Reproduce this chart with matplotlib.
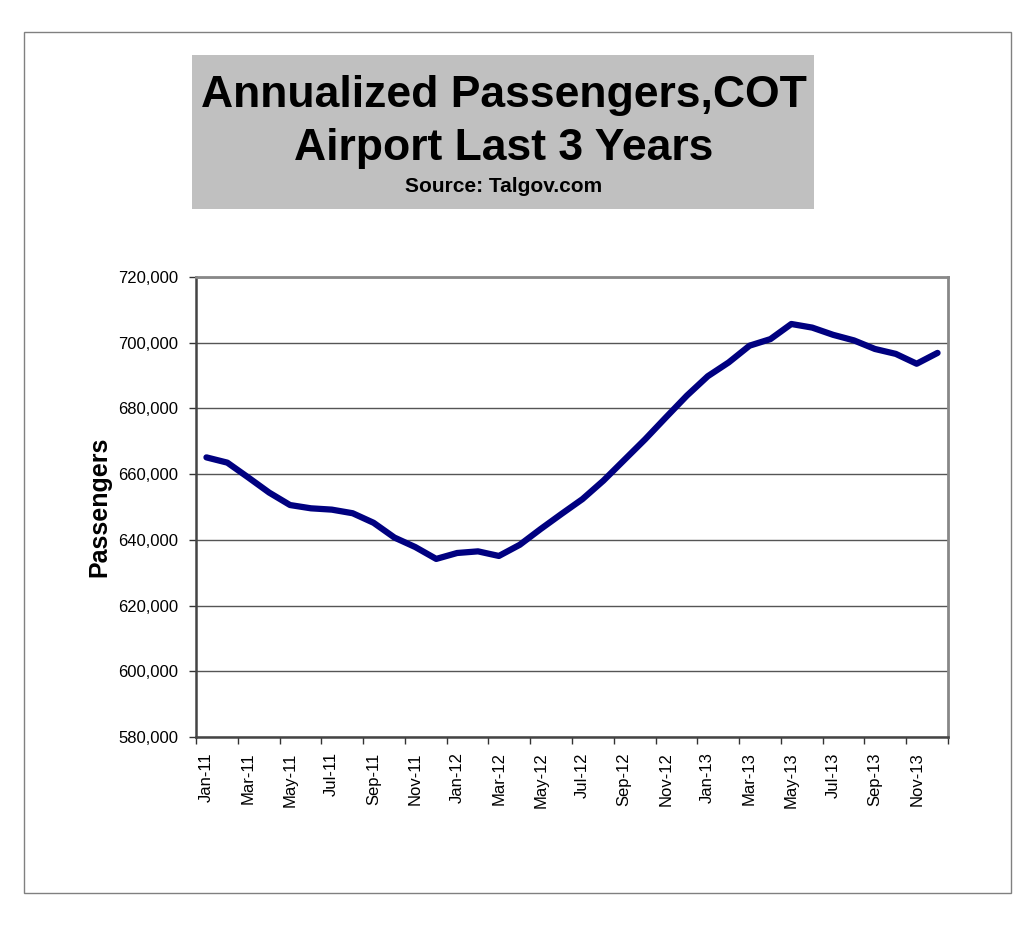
import matplotlib
matplotlib.use("Agg")
import matplotlib.pyplot as plt
from matplotlib.patches import Rectangle
from matplotlib.ticker import FuncFormatter, FixedLocator
import numpy as np

plt.rcParams['font.family'] = ['Liberation Sans', 'DejaVu Sans']

months = ["Jan-11", "Feb-11", "Mar-11", "Apr-11", "May-11", "Jun-11", "Jul-11", "Aug-11",
          "Sep-11", "Oct-11", "Nov-11", "Dec-11", "Jan-12", "Feb-12", "Mar-12", "Apr-12",
          "May-12", "Jun-12", "Jul-12", "Aug-12", "Sep-12", "Oct-12", "Nov-12", "Dec-12",
          "Jan-13", "Feb-13", "Mar-13", "Apr-13", "May-13", "Jun-13", "Jul-13", "Aug-13",
          "Sep-13", "Oct-13", "Nov-13", "Dec-13"]
passengers = [665100, 663500, 659000, 654400, 650600, 649600, 649200, 648100,
              645200, 640700, 637800, 634200, 636000, 636500, 635100, 638500,
              643300, 647900, 652400, 658000, 664300, 670600, 677300, 683900,
              689800, 694000, 699100, 701100, 705700, 704600, 702400, 700700,
              698100, 696600, 693600, 696900]
y_ticks = [580000, 600000, 620000, 640000, 660000, 680000, 700000, 720000]

W, H = 1024, 946
fig = plt.figure(figsize=(W / 100, H / 100), dpi=100)

# outer border
fig.patches.append(Rectangle((24 / W, 1 - 893 / H), (1011 - 24) / W, (893 - 32) / H,
                             transform=fig.transFigure, fill=False, edgecolor='#808080',
                             linewidth=1.0))
# title box
fig.patches.append(Rectangle((192 / W, 1 - 209 / H), (814 - 192) / W, (209 - 55) / H,
                             transform=fig.transFigure, facecolor='#c0c0c0', edgecolor='none'))
cx = (200 + 808) / 2 / W
fig.text(cx, 1 - 107 / H, "Annualized Passengers,COT", ha='center', va='baseline',
         fontsize=32, fontweight='bold', color='black')
fig.text(cx, 1 - 160 / H, "Airport Last 3 Years", ha='center', va='baseline',
         fontsize=32, fontweight='bold', color='black')
fig.text(cx, 1 - 192 / H, "Source: Talgov.com", ha='center', va='baseline',
         fontsize=15, fontweight='bold', color='black')

ax = fig.add_axes([196 / W, 1 - 737 / H, (948 - 196) / W, (737 - 277) / H])
x = np.arange(len(months))
ax.plot(x, passengers, color='#000080', linewidth=4.5, solid_capstyle='round',
        solid_joinstyle='round', zorder=3)

ax.set_xlim(-0.5, len(months) - 0.5)
ax.set_ylim(y_ticks[0], y_ticks[-1])
ax.set_yticks(y_ticks)
ax.yaxis.set_major_formatter(FuncFormatter(lambda v, p: f"{int(v):,}"))
ax.grid(axis='y', color='#555555', linewidth=1.0)
ax.set_axisbelow(True)

# x ticks at category boundaries every 2 months, labels at category centres
ax.xaxis.set_major_locator(FixedLocator(np.arange(-0.5, len(months), 2)))
ax.xaxis.set_major_formatter(FuncFormatter(lambda v, p: ""))
ax.xaxis.set_minor_locator(FixedLocator(x[::2]))
ax.set_xticklabels(months[::2], minor=True, rotation=90, fontsize=12)
ax.tick_params(axis='x', which='minor', length=0, pad=11)
ax.tick_params(axis='x', which='major', length=5, width=1, color='#333333', direction='out')
ax.tick_params(axis='y', length=5, width=1, color='#333333', direction='out', labelsize=12, pad=8)

for s in ['left', 'bottom']:
    ax.spines[s].set_color('#444444')
    ax.spines[s].set_linewidth(1.8)
for s in ['right', 'top']:
    ax.spines[s].set_color('#888888')
    ax.spines[s].set_linewidth(2.0)

ax.set_ylabel("Passengers", fontsize=18, fontweight='bold', labelpad=5)

fig.savefig("out.png", dpi=100)
